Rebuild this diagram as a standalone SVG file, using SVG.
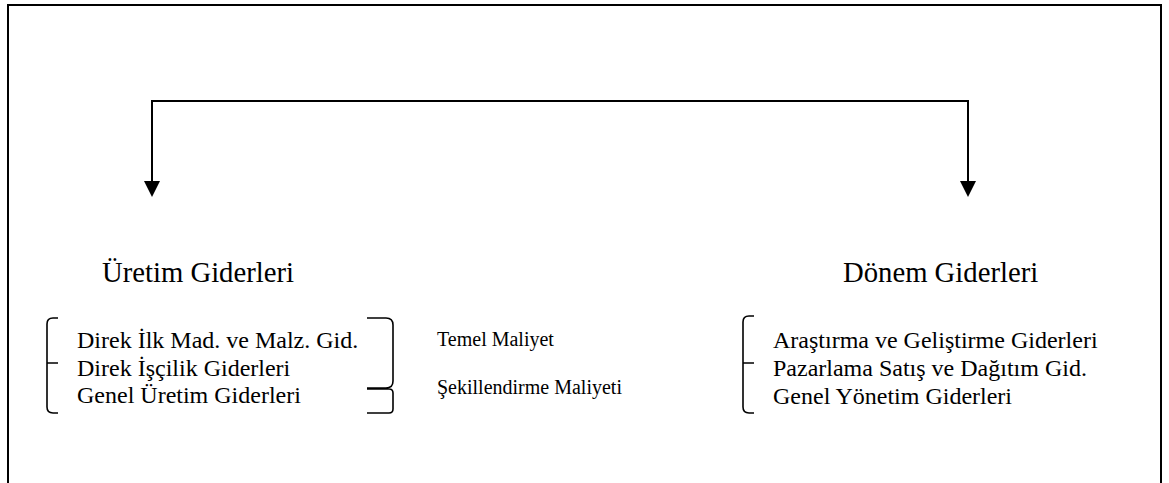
<svg xmlns="http://www.w3.org/2000/svg" width="1169" height="483" viewBox="0 0 1169 483">
  <defs>
    <style>
      .frame { fill: none; stroke: #000; stroke-width: 2; }
      .conn { fill: none; stroke: #000; stroke-width: 2; }
      .brace { fill: none; stroke: #000; stroke-width: 1.6; }
      .title { font-family: "Liberation Serif", "Times New Roman", serif; font-size: 28.7px; fill: #000; }
      .item { font-family: "Liberation Serif", "Times New Roman", serif; font-size: 24px; fill: #000; }
      .note { font-family: "Liberation Serif", "Times New Roman", serif; font-size: 20px; fill: #000; }
    </style>
  </defs>

  <rect width="1169" height="483" fill="#fff"/>

  <!-- outer frame, open at the bottom -->
  <path class="frame" d="M8 490 V5 H1161 V490"/>

  <!-- connectors -->
  <g id="connectors">
    <path class="conn" d="M152 101 H968"/>
    <path class="conn" d="M152 100 V181"/>
    <path class="conn" d="M968 100 V181"/>
    <path d="M144 181 L160 181 L152 197 Z" fill="#000"/>
    <path d="M960 181 L976 181 L968 197 Z" fill="#000"/>
  </g>

  <!-- production costs -->
  <g id="uretim">
    <text class="title" x="102" y="282">Üretim Giderleri</text>
    <path class="brace" d="M58 318 H53 Q47 318 47 324 V407 Q47 413 53 413 H58 M47 363 H58"/>
    <text class="item" x="77" y="348">Direk İlk Mad. ve Malz. Gid.</text>
    <text class="item" x="77" y="376">Direk İşçilik Giderleri</text>
    <text class="item" x="77" y="403">Genel Üretim Giderleri</text>
    <path class="brace" d="M367 318 H386 Q393 318 393 325 V381 Q393 388 386 388 H367 M367 389 H389 Q393 389 393 393 V409 Q393 413 389 413 H367"/>
  </g>

  <g id="temel">
    <text class="note" x="437" y="346">Temel Maliyet</text>
  </g>

  <g id="sekillendirme">
    <text class="note" x="437" y="394">Şekillendirme Maliyeti</text>
  </g>

  <!-- period costs -->
  <g id="donem">
    <text class="title" x="843" y="282">Dönem Giderleri</text>
    <path class="brace" d="M754 316 H749 Q743 316 743 322 V407 Q743 413 749 413 H754 M743 363 H754"/>
    <text class="item" x="773" y="348">Araştırma ve Geliştirme Giderleri</text>
    <text class="item" x="773" y="376">Pazarlama Satış ve Dağıtım Gid.</text>
    <text class="item" x="773" y="404">Genel Yönetim Giderleri</text>
  </g>
</svg>
